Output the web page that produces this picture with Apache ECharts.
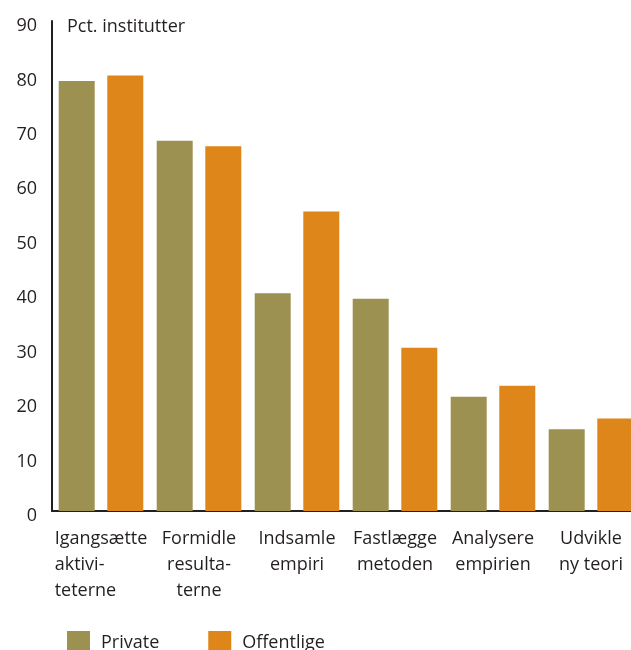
<!DOCTYPE html>
<html>
<head>
<meta charset="utf-8">
<script src="https://cdn.jsdelivr.net/npm/echarts@6/dist/echarts.min.js"></script>
<style>
html,body{margin:0;padding:0;background:#fff;}
#chart{width:631px;height:650px;}
</style>
</head>
<body>
<div id="chart"></div>
<script>
const categories = ["Igangsætte\naktivi-\nteterne", "Formidle\nresulta-\nterne", "Indsamle\nempiri", "Fastlægge\nmetoden", "Analysere\nempirien", "Udvikle\nny teori"];
const privateValues = [79, 68, 40, 39, 21, 15];
const offentligeValues = [80, 67, 55, 30, 23, 17];
const yTicks = [0, 10, 20, 30, 40, 50, 60, 70, 80, 90];
const seriesNames = ["Private", "Offentlige"];
const unitLabel = "Pct. institutter";

const FONT = "Open Sans";
const TXT = "#231f20";
const chart = echarts.init(document.getElementById('chart'), null, {renderer: 'canvas'});
chart.setOption({
  animation: false,
  backgroundColor: '#fff',
  textStyle: {fontFamily: FONT, color: TXT},
  title: {
    text: unitLabel, left: 62, top: 13,
    textStyle: {fontFamily: FONT, fontSize: 18, fontWeight: 'normal', color: TXT}
  },
  grid: {left: 52, width: 588, top: 21, bottom: 139, containLabel: false, outerBoundsMode: 'none'},
  legend: {
    data: seriesNames,
    left: 62, top: 626,
    itemWidth: 23, itemHeight: 23, itemGap: 49,
    icon: 'rect',
    textStyle: {fontFamily: FONT, fontSize: 18, color: TXT, padding: [3, 0, 0, 6]}
  },
  xAxis: {
    type: 'category',
    data: categories,
    axisLine: {show: true, lineStyle: {color: TXT, width: 2}},
    axisTick: {show: false},
    axisLabel: {
      interval: 0, margin: 15, fontFamily: FONT, fontSize: 18, color: TXT, lineHeight: 26,
      formatter: function (v, i) {
        if (i !== 0) return v;
        const lines = v.split('\n');
        return lines.map(function (s, k) { return k === 0 ? '{c|' + s + '}' : '{l|' + s + '}'; }).join('\n');
      },
      rich: {
        c: {fontFamily: FONT, fontSize: 18, color: TXT, lineHeight: 26, align: 'center'},
        l: {fontFamily: FONT, fontSize: 18, color: TXT, lineHeight: 26, align: 'left'}
      }
    }
  },
  yAxis: {
    type: 'value',
    min: 0, max: 90, interval: 10,
    axisLine: {show: true, lineStyle: {color: TXT, width: 2}},
    axisTick: {show: false},
    splitLine: {show: false},
    axisLabel: {
      margin: 15, fontFamily: FONT, fontSize: 18, color: TXT,
      formatter: function (v) { return yTicks.indexOf(v) >= 0 ? '{y|' + v + '}' : ''; },
      rich: {
        y: {fontFamily: FONT, fontSize: 18, color: TXT, padding: [10, 0, 0, 0]}
      }
    }
  },
  series: [
    {name: seriesNames[0], type: 'bar', data: privateValues, barWidth: 36, barGap: '35%',
     itemStyle: {color: '#9d9151'}},
    {name: seriesNames[1], type: 'bar', data: offentligeValues, barWidth: 36, barGap: '35%',
     itemStyle: {color: '#de861a'}}
  ]
});
</script>
</body>
</html>
